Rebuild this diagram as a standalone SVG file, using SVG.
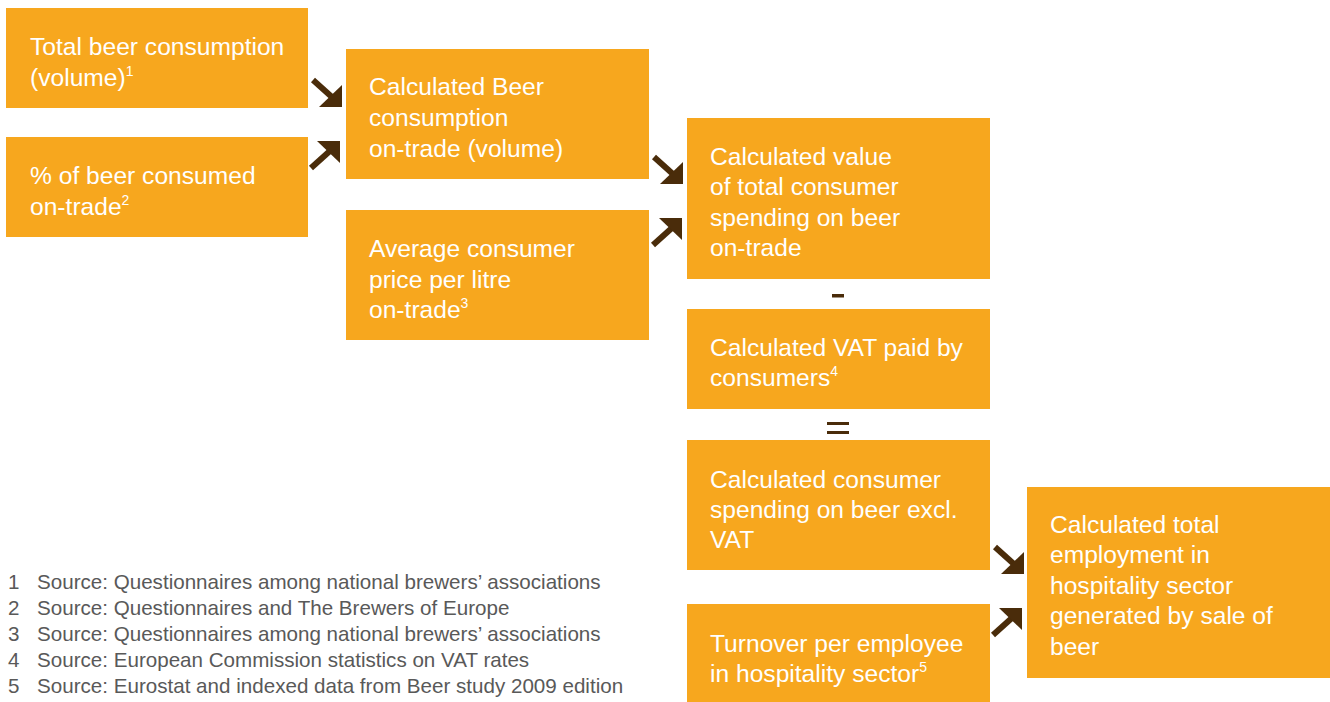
<svg xmlns="http://www.w3.org/2000/svg" width="1330" height="702" viewBox="0 0 1330 702">
<style>
.box{fill:#F7A71E}
.t{font-family:"Liberation Sans",Arial,sans-serif;font-size:24.6px;fill:#FFFFFF}
.sup{font-size:14px}
.fn{font-family:"Liberation Sans",Arial,sans-serif;font-size:20.6px;fill:#595959}
.op{fill:#4A2C0A}
</style>
<defs>
<g id="arrowSE">
<line x1="-29" y1="-27" x2="-9" y2="-9" stroke="#4A2C0A" stroke-width="6"/>
<polygon points="0,0 0,-22 -23,0" fill="#4A2C0A"/>
</g>
</defs>
<rect width="1330" height="702" fill="#FFFFFF"/>

<g id="n1">
<rect class="box" x="6" y="8" width="302" height="100"/>
<text class="t" x="30" y="55">Total beer consumption</text>
<text class="t" x="30" y="86">(volume)<tspan class="sup" dy="-10">1</tspan></text>
</g>
<g id="n2">
<rect class="box" x="6" y="137" width="302" height="100"/>
<text class="t" x="30" y="184">% of beer consumed</text>
<text class="t" x="30" y="215">on-trade<tspan class="sup" dy="-10">2</tspan></text>
</g>
<g id="n3">
<rect class="box" x="346" y="49" width="303" height="130"/>
<text class="t" x="369" y="95">Calculated Beer</text>
<text class="t" x="369" y="126">consumption</text>
<text class="t" x="369" y="157">on-trade (volume)</text>
</g>
<g id="n4">
<rect class="box" x="346" y="210" width="303" height="130"/>
<text class="t" x="369" y="257">Average consumer</text>
<text class="t" x="369" y="288">price per litre</text>
<text class="t" x="369" y="318">on-trade<tspan class="sup" dy="-10">3</tspan></text>
</g>
<g id="n5">
<rect class="box" x="687" y="118" width="303" height="161"/>
<text class="t" x="710" y="165">Calculated value</text>
<text class="t" x="710" y="195">of total consumer</text>
<text class="t" x="710" y="226">spending on beer</text>
<text class="t" x="710" y="256">on-trade</text>
</g>
<g id="minus">
<rect class="op" x="832" y="294" width="12" height="3.5"/>
</g>
<g id="n6">
<rect class="box" x="687" y="309" width="303" height="100"/>
<text class="t" x="710" y="356">Calculated VAT paid by</text>
<text class="t" x="710" y="386">consumers<tspan class="sup" dy="-10">4</tspan></text>
</g>
<g id="equals">
<rect class="op" x="827" y="422" width="22" height="3"/>
<rect class="op" x="827" y="431" width="22" height="3"/>
</g>
<g id="n7">
<rect class="box" x="687" y="440" width="303" height="130"/>
<text class="t" x="710" y="488">Calculated consumer</text>
<text class="t" x="710" y="518">spending on beer excl.</text>
<text class="t" x="710" y="548">VAT</text>
</g>
<g id="n8">
<rect class="box" x="687" y="604" width="303" height="98"/>
<text class="t" x="710" y="652">Turnover per employee</text>
<text class="t" x="710" y="682">in hospitality sector<tspan class="sup" dy="-10">5</tspan></text>
</g>
<g id="n9">
<rect class="box" x="1027" y="487" width="303" height="191"/>
<text class="t" x="1050" y="533">Calculated total</text>
<text class="t" x="1050" y="563">employment in</text>
<text class="t" x="1050" y="594">hospitality sector</text>
<text class="t" x="1050" y="624">generated by sale of</text>
<text class="t" x="1050" y="655">beer</text>
</g>

<g id="connectors">
<use href="#arrowSE" transform="translate(342,107)"/>
<use href="#arrowSE" transform="translate(340,141) scale(1,-1)"/>
<use href="#arrowSE" transform="translate(683,184)"/>
<use href="#arrowSE" transform="translate(682,218) scale(1,-1)"/>
<use href="#arrowSE" transform="translate(1024,574)"/>
<use href="#arrowSE" transform="translate(1022,608) scale(1,-1)"/>
</g>

<g id="footnotes">
<text class="fn" x="8" y="589">1</text><text class="fn" x="37" y="589">Source: Questionnaires among national brewers’ associations</text>
<text class="fn" x="8" y="615">2</text><text class="fn" x="37" y="615">Source: Questionnaires and The Brewers of Europe</text>
<text class="fn" x="8" y="641">3</text><text class="fn" x="37" y="641">Source: Questionnaires among national brewers’ associations</text>
<text class="fn" x="8" y="667">4</text><text class="fn" x="37" y="667">Source: European Commission statistics on VAT rates</text>
<text class="fn" x="8" y="693">5</text><text class="fn" x="37" y="693">Source: Eurostat and indexed data from Beer study 2009 edition</text>
</g>
</svg>
